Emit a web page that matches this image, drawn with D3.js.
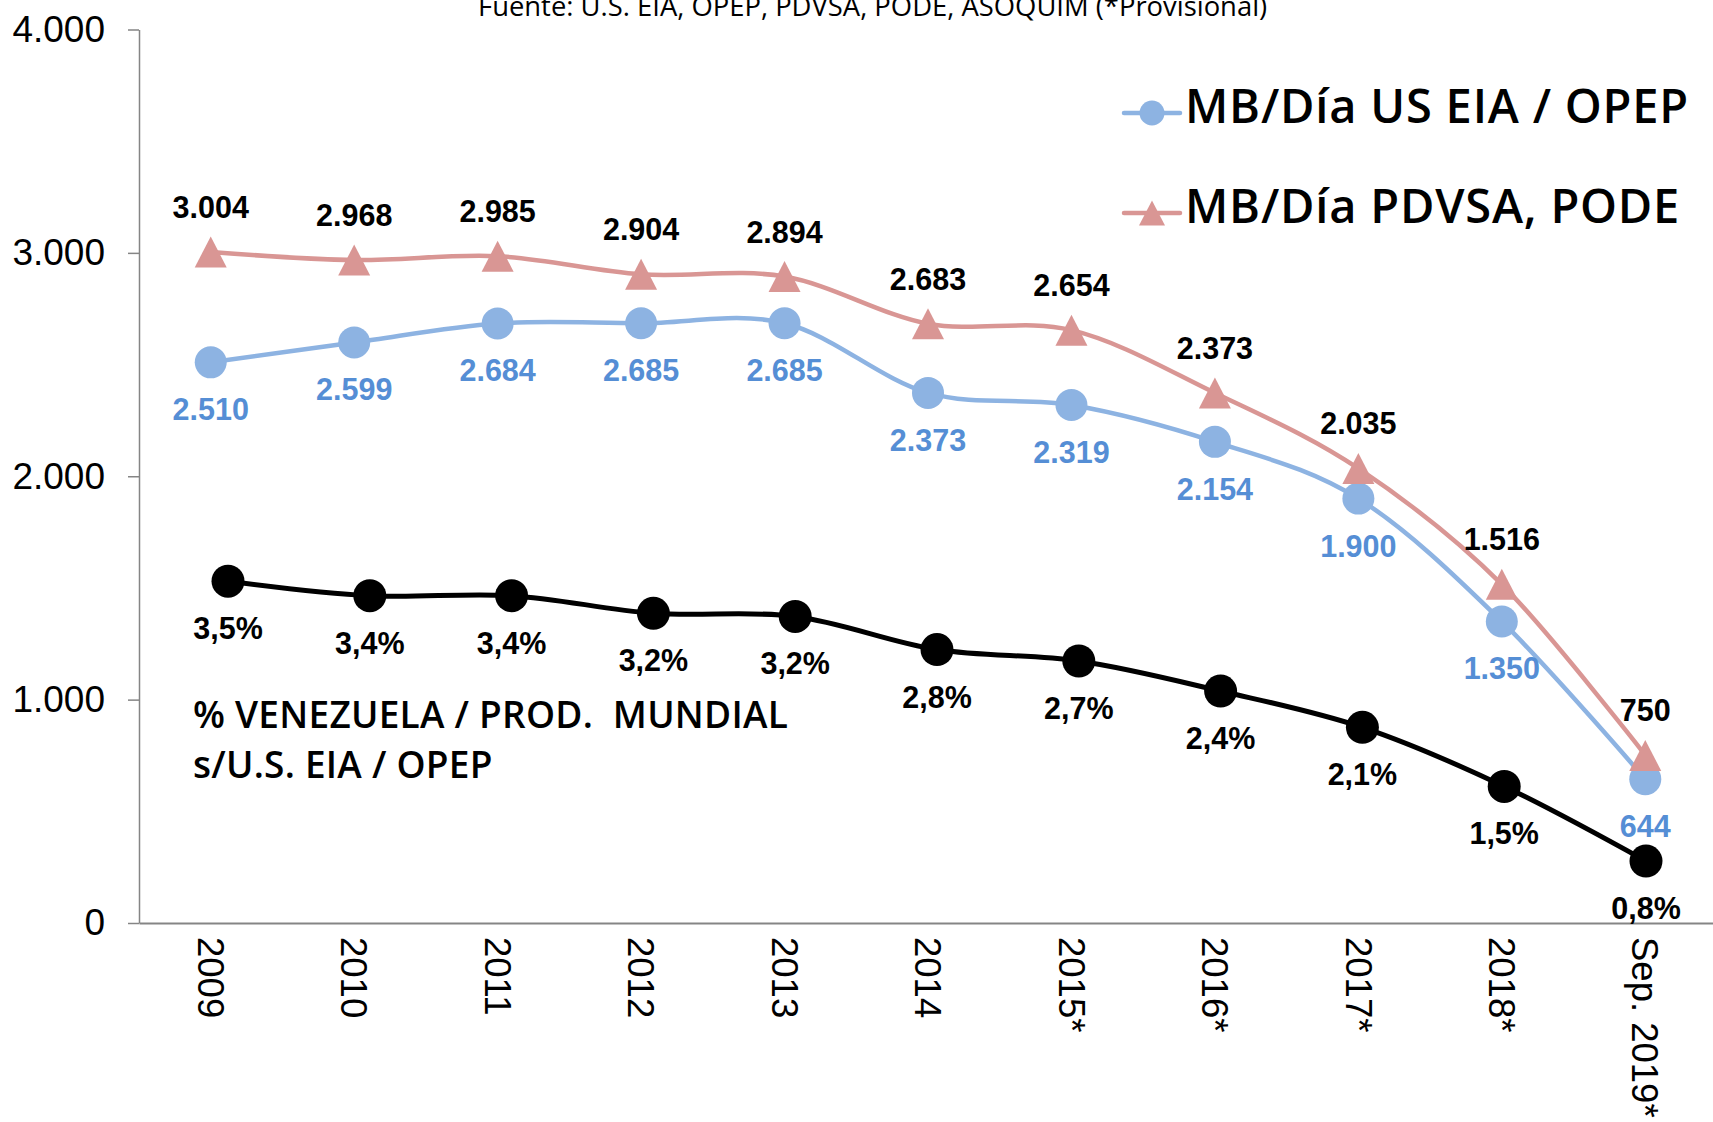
<!DOCTYPE html>
<html>
<head>
<meta charset="utf-8">
<script src="https://cdn.jsdelivr.net/npm/d3@7"></script>
<style>
  body { margin: 0; background: #fff; }
  svg { display: block; }
</style>
</head>
<body>
<svg id="grafico" width="1713" height="1122"></svg>
<script>
// Datos
let categorias = ["2009", "2010", "2011", "2012", "2013", "2014", "2015*", "2016*", "2017*", "2018*", "Sep. 2019*"];
let valoresEIA = [2510, 2599, 2684, 2685, 2685, 2373, 2319, 2154, 1900, 1350, 644];
let valoresPDVSA = [3004, 2968, 2985, 2904, 2894, 2683, 2654, 2373, 2035, 1516, 750];
// % Venezuela / producción mundial (eje secundario oculto)
let porcentajes = [3.50, 3.36, 3.36, 3.19, 3.16, 2.84, 2.73, 2.44, 2.09, 1.52, 0.80];
let ticksY = [0, 1000, 2000, 3000, 4000];

let nombreEIA = "MB/Día US EIA / OPEP";
let nombrePDVSA = "MB/Día PDVSA, PODE";
let fuente = "Fuente: U.S. EIA, OPEP, PDVSA, PODE, ASOQUIM (*Provisional)";
let nota = ["% VENEZUELA / PROD.  MUNDIAL", "s/U.S. EIA / OPEP"];

let colorAzul = "#8db3e2";
let colorAzulTexto = "#558ed5";
let colorRojo = "#d99694";
let fuenteNum = "'Liberation Sans', Arial, sans-serif";
let fuenteTxt = "'Open Sans', sans-serif";

let es = d3.formatLocale({ decimal: ",", thousands: ".", grouping: [3], currency: ["", ""] });
let fmtMiles = es.format(",d");
let fmtPct = es.format(".1f");

let svg = d3.select("#grafico");

// Escalas
let fnX = d3.scaleBand().domain(categorias).range([139, 1717]);
let fnY = d3.scaleLinear().domain([0, 4000]).range([923, 29.5]);
let fnX2 = d3.scalePoint().domain(categorias).range([228, 1646]);
let fnY2 = d3.scaleLinear().domain([0, 9]).range([944, 11]);
let cx = (c) => fnX(c) + fnX.bandwidth() / 2;

// Título (fuente), cortado arriba como en el original
svg.append("text")
  .attr("x", 478)
  .attr("y", 16)
  .style("font-family", fuenteTxt)
  .style("font-size", "27.4px")
  .text(fuente);

// Eje Y
let ejeY = svg.append("g")
  .attr("transform", "translate(139,0)")
  .call(d3.axisLeft(fnY).tickValues(ticksY).tickFormat((d) => fmtMiles(d)).tickSize(11).tickPadding(23).tickSizeOuter(0));
ejeY.select(".domain").attr("stroke", "#858585").attr("stroke-width", 1.5);
ejeY.selectAll(".tick line").attr("stroke", "#858585").attr("stroke-width", 1.5);
ejeY.selectAll(".tick text")
  .style("font-family", fuenteNum)
  .style("font-size", "37px")
  .attr("fill", "#000");

// Eje X
let ejeX = svg.append("g")
  .attr("transform", "translate(0,923)")
  .call(d3.axisBottom(fnX).tickSize(0).tickSizeOuter(0));
ejeX.select(".domain").attr("stroke", "#858585").attr("stroke-width", 2);
ejeX.selectAll(".tick text")
  .attr("transform", "rotate(90)")
  .attr("x", 14)
  .attr("y", 0)
  .attr("dy", "0.35em")
  .attr("text-anchor", "start")
  .style("font-family", fuenteNum)
  .style("font-size", "36.5px")
  .attr("fill", "#000");

let curva = d3.curveCatmullRom.alpha(0);
let triangulo = "M0,-15.5L16,15.5L-16,15.5Z";

// Serie US EIA / OPEP
let lineaEIA = d3.line().x((d, i) => cx(categorias[i])).y((d) => fnY(d)).curve(curva);
svg.append("path")
  .datum(valoresEIA)
  .attr("d", lineaEIA)
  .attr("fill", "none")
  .attr("stroke", colorAzul)
  .attr("stroke-width", 4.5);
svg.selectAll(".puntoEIA")
  .data(valoresEIA)
  .enter()
  .append("circle")
  .classed("puntoEIA", true)
  .attr("cx", (d, i) => cx(categorias[i]))
  .attr("cy", (d) => fnY(d))
  .attr("r", 16)
  .attr("fill", colorAzul);

// Serie PDVSA, PODE
let lineaPDVSA = d3.line().x((d, i) => cx(categorias[i])).y((d) => fnY(d)).curve(curva);
svg.append("path")
  .datum(valoresPDVSA)
  .attr("d", lineaPDVSA)
  .attr("fill", "none")
  .attr("stroke", colorRojo)
  .attr("stroke-width", 4.5);
svg.selectAll(".puntoPDVSA")
  .data(valoresPDVSA)
  .enter()
  .append("path")
  .classed("puntoPDVSA", true)
  .attr("d", triangulo)
  .attr("transform", (d, i) => `translate(${cx(categorias[i])},${fnY(d)})`)
  .attr("fill", colorRojo);

// Serie % mundial
let lineaPct = d3.line().x((d, i) => fnX2(categorias[i])).y((d) => fnY2(d)).curve(curva);
svg.append("path")
  .datum(porcentajes)
  .attr("d", lineaPct)
  .attr("fill", "none")
  .attr("stroke", "#000")
  .attr("stroke-width", 5);
svg.selectAll(".puntoPct")
  .data(porcentajes)
  .enter()
  .append("circle")
  .classed("puntoPct", true)
  .attr("cx", (d, i) => fnX2(categorias[i]))
  .attr("cy", (d) => fnY2(d))
  .attr("r", 16.5)
  .attr("fill", "#000");

// Rótulos
svg.selectAll(".rotuloEIA")
  .data(valoresEIA)
  .enter()
  .append("text")
  .classed("rotuloEIA", true)
  .text((d) => fmtMiles(d))
  .attr("x", (d, i) => cx(categorias[i]))
  .attr("y", (d) => fnY(d))
  .attr("dy", 58)
  .attr("text-anchor", "middle")
  .style("font-family", fuenteNum)
  .style("font-size", "30.5px")
  .style("font-weight", "bold")
  .attr("fill", colorAzulTexto);

svg.selectAll(".rotuloPDVSA")
  .data(valoresPDVSA)
  .enter()
  .append("text")
  .classed("rotuloPDVSA", true)
  .text((d) => fmtMiles(d))
  .attr("x", (d, i) => cx(categorias[i]))
  .attr("y", (d) => fnY(d))
  .attr("dy", -34)
  .attr("text-anchor", "middle")
  .style("font-family", fuenteNum)
  .style("font-size", "30.5px")
  .style("font-weight", "bold")
  .attr("fill", "#000");

svg.selectAll(".rotuloPct")
  .data(porcentajes)
  .enter()
  .append("text")
  .classed("rotuloPct", true)
  .text((d) => fmtPct(d) + "%")
  .attr("x", (d, i) => fnX2(categorias[i]))
  .attr("y", (d) => fnY2(d))
  .attr("dy", 58)
  .attr("text-anchor", "middle")
  .style("font-family", fuenteNum)
  .style("font-size", "30.5px")
  .style("font-weight", "bold")
  .attr("fill", "#000");

// Nota
svg.append("text")
  .attr("x", 193)
  .attr("y", 728)
  .style("font-family", fuenteTxt)
  .style("font-size", "37px")
  .style("font-weight", 600)
  .style("letter-spacing", "0.25px")
  .selectAll("tspan")
  .data(nota)
  .enter()
  .append("tspan")
  .attr("x", 193)
  .attr("dy", (d, i) => (i === 0 ? 0 : 50))
  .style("white-space", "pre")
  .text((d) => d);

// Leyenda
let leyenda = svg.selectAll(".leyenda")
  .data([
    { nombre: nombreEIA, color: colorAzul, forma: "circulo" },
    { nombre: nombrePDVSA, color: colorRojo, forma: "triangulo" },
  ])
  .enter()
  .append("g")
  .classed("leyenda", true)
  .attr("transform", (d, i) => `translate(0,${113 + i * 100})`);
leyenda.append("line")
  .attr("x1", 1124)
  .attr("x2", 1180)
  .attr("stroke", (d) => d.color)
  .attr("stroke-width", 4.5)
  .attr("stroke-linecap", "round");
leyenda.filter((d) => d.forma === "circulo")
  .append("circle")
  .attr("cx", 1152)
  .attr("r", 12.5)
  .attr("fill", (d) => d.color);
leyenda.filter((d) => d.forma === "triangulo")
  .append("path")
  .attr("d", "M0,-12.5L13,12.5L-13,12.5Z")
  .attr("transform", "translate(1152,0)")
  .attr("fill", (d) => d.color);
leyenda.append("text")
  .attr("x", 1185)
  .attr("y", 10)
  .style("font-family", fuenteTxt)
  .style("font-size", "47px")
  .style("font-weight", 600)
  .style("letter-spacing", "0.8px")
  .text((d) => d.nombre);
</script>
</body>
</html>
